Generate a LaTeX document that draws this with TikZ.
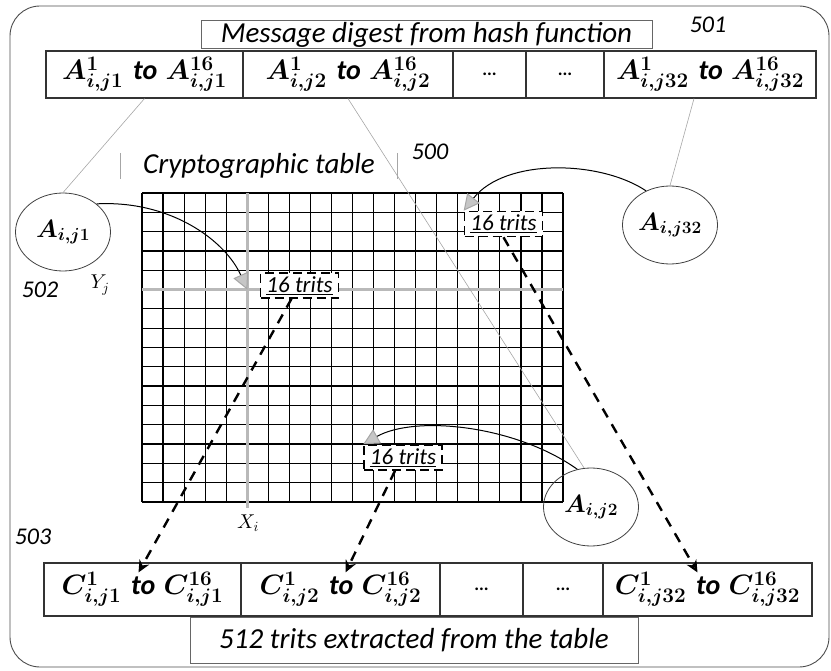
\documentclass[tikz,border=0pt]{standalone}
\usepackage{fontspec}
\setmainfont{Carlito}
\usetikzlibrary{shapes.geometric,arrows.meta,positioning,calc}
% let the math letters scale freely
\DeclareFontShape{OML}{cmm}{m}{it}{<->cmmi10}{}
\DeclareFontShape{OML}{cmm}{b}{it}{<->cmmib10}{}

\begin{document}
\begin{tikzpicture}[x=1pt,y=-1pt,
  cell/.style={draw=black!80,line width=1.1pt,inner sep=0pt,minimum height=47pt,font=\fontsize{28}{31}\selectfont\boldmath\bfseries},
  ccell/.style={cell,minimum height=53pt},
  caption/.style={draw=black!60,line width=0.8pt,inner sep=0pt,font=\fontsize{29}{32}\selectfont\itshape},
  blob/.style={ellipse,draw=black!75,line width=0.8pt,inner sep=0pt,minimum width=95pt,minimum height=78pt,font=\fontsize{25}{28}\selectfont\boldmath},
  trits/.style={draw,dash pattern=on 9pt off 5pt,line width=1.6pt,fill=white,inner sep=0pt,minimum width=78pt,minimum height=25pt,font=\fontsize{23}{25}\selectfont\itshape},
  hand/.style={font=\fontsize{24}{26}\selectfont\itshape},
  leader/.style={gray!70,line width=0.6pt},
  pick/.style={line width=1pt,-{Triangle[length=16pt,width=16pt,fill=gray!45,color=gray!70]}},
  carry/.style={line width=2.4pt,dash pattern=on 10pt off 8pt,-{Stealth[length=12pt,width=11pt,fill=gray!60]}}
]
\useasboundingbox (0,0) rectangle (831,671);

% outer frame
\draw[black!70,line width=0.9pt,rounded corners=30pt] (10,6) rectangle (829,667);

% message digest
\node[caption,minimum width=451pt,minimum height=28pt] (msg) at (426.5,34.5) {Message digest from hash function};
\node[cell,minimum width=197pt] (a1) at (144.5,74.5) {$A^{1}_{i,j1}$\hspace{0.35em}\textit{to}\hspace{0.3em}$A^{16}_{i,j1}$};
\node[cell,minimum width=210pt] (a2) at (348,74.5) {$A^{1}_{i,j2}$\hspace{0.35em}\textit{to}\hspace{0.3em}$A^{16}_{i,j2}$};
\node[cell,minimum width=73pt] (a3) at (489.5,74.5) {\fontsize{18}{20}\selectfont\textbf{...}};
\node[cell,minimum width=78pt] (a4) at (565,74.5) {\fontsize{18}{20}\selectfont\textbf{...}};
\node[cell,minimum width=212pt] (a5) at (710,74.5) {$A^{1}_{i,j32}$\hspace{0.35em}\textit{to}\hspace{0.3em}$A^{16}_{i,j32}$};

% cryptographic table
\node[font=\fontsize{29}{32}\selectfont\itshape,inner sep=0pt,minimum width=277pt,minimum height=26pt] (ctab) at (259,166) {Cryptographic table};
\draw[gray!70,line width=1pt] (ctab.north west) -- (ctab.south west) (ctab.north east) -- (ctab.south east);
\foreach \i in {0,...,20}
  \draw[line width=1.2pt] ({142+\i*21.05},193) -- ({142+\i*21.05},502);
\foreach \j in {0,...,16}
  \draw[line width=1.2pt] (142,{193+\j*19.31}) -- (563,{193+\j*19.31});
\draw[gray!55,line width=2.4pt] (247.3,193) -- (247.3,508);
\draw[gray!55,line width=2.4pt] (142,289.6) -- (563,289.6);
\coordinate (xy) at (247.3,289.6);
\node[font=\fontsize{20}{22}\selectfont] (yj) at (100,285) {$Y_j$};
\node[font=\fontsize{20}{22}\selectfont] (xi) at (248,523) {$X_i$};

% picked entries
\node[blob] (aj1) at (63,232) {$A_{i,j1}$};
\node[blob] (aj32) at (670,225) {$A_{i,j32}$};
\node[blob] (aj2) at (591,507) {$A_{i,j2}$};
\draw[leader] (a1.south) -- (aj1.north);
\draw[leader] (a2.south) -- (aj2.100);
\draw[leader] ($(a5.south)+(-16,0)$) -- (aj32.north);

\node[trits] (t1) at (299.5,285.5) {\underline{16 trits}};
\node[trits] (t2) at (503.5,224) {\underline{16 trits}};
\node[trits] (t3) at (403,457.5) {\underline{16 trits}};

\draw[pick] (aj1.40) .. controls (170,200) and (225,240) .. (xy);
\draw[pick] (aj32.125) .. controls (600,160) and (505,158) .. (t2.north west);
\draw[pick] (aj2.110) .. controls (515,425) and (415,415) .. (t3.north west);

% extracted trits
\node[ccell,minimum width=197pt] (c1) at (142.5,589.5) {$C^{1}_{i,j1}$\hspace{0.35em}\textit{to}\hspace{0.3em}$C^{16}_{i,j1}$};
\node[ccell,minimum width=199pt] (c2) at (340.5,589.5) {$C^{1}_{i,j2}$\hspace{0.35em}\textit{to}\hspace{0.3em}$C^{16}_{i,j2}$};
\node[ccell,minimum width=83pt] (c3) at (481.5,589.5) {\fontsize{18}{20}\selectfont\textbf{...}};
\node[ccell,minimum width=80pt] (c4) at (563,589.5) {\fontsize{18}{20}\selectfont\textbf{...}};
\node[ccell,minimum width=209pt] (c5) at (707.5,589.5) {$C^{1}_{i,j32}$\hspace{0.35em}\textit{to}\hspace{0.3em}$C^{16}_{i,j32}$};
\node[caption,minimum width=448pt,minimum height=46pt] (out) at (414,640) {512 trits extracted from the table};

\draw[carry] ($(t1.south)+(-8,0)$) -- ($(c1.north)+(-4,10)$);
\draw[carry] ($(t3.south)+(-8,0)$) -- ($(c2.north)+(5,10)$);
\draw[carry] (t2.south) -- ($(c5.north)+(-10,10)$);

% reference numerals
\node[hand] (n501) at (708,25) {501};
\node[hand] (n500) at (430,152) {500};
\node[hand] (n502) at (40,290) {502};
\node[hand] (n503) at (33,537) {503};
\end{tikzpicture}
\end{document}
